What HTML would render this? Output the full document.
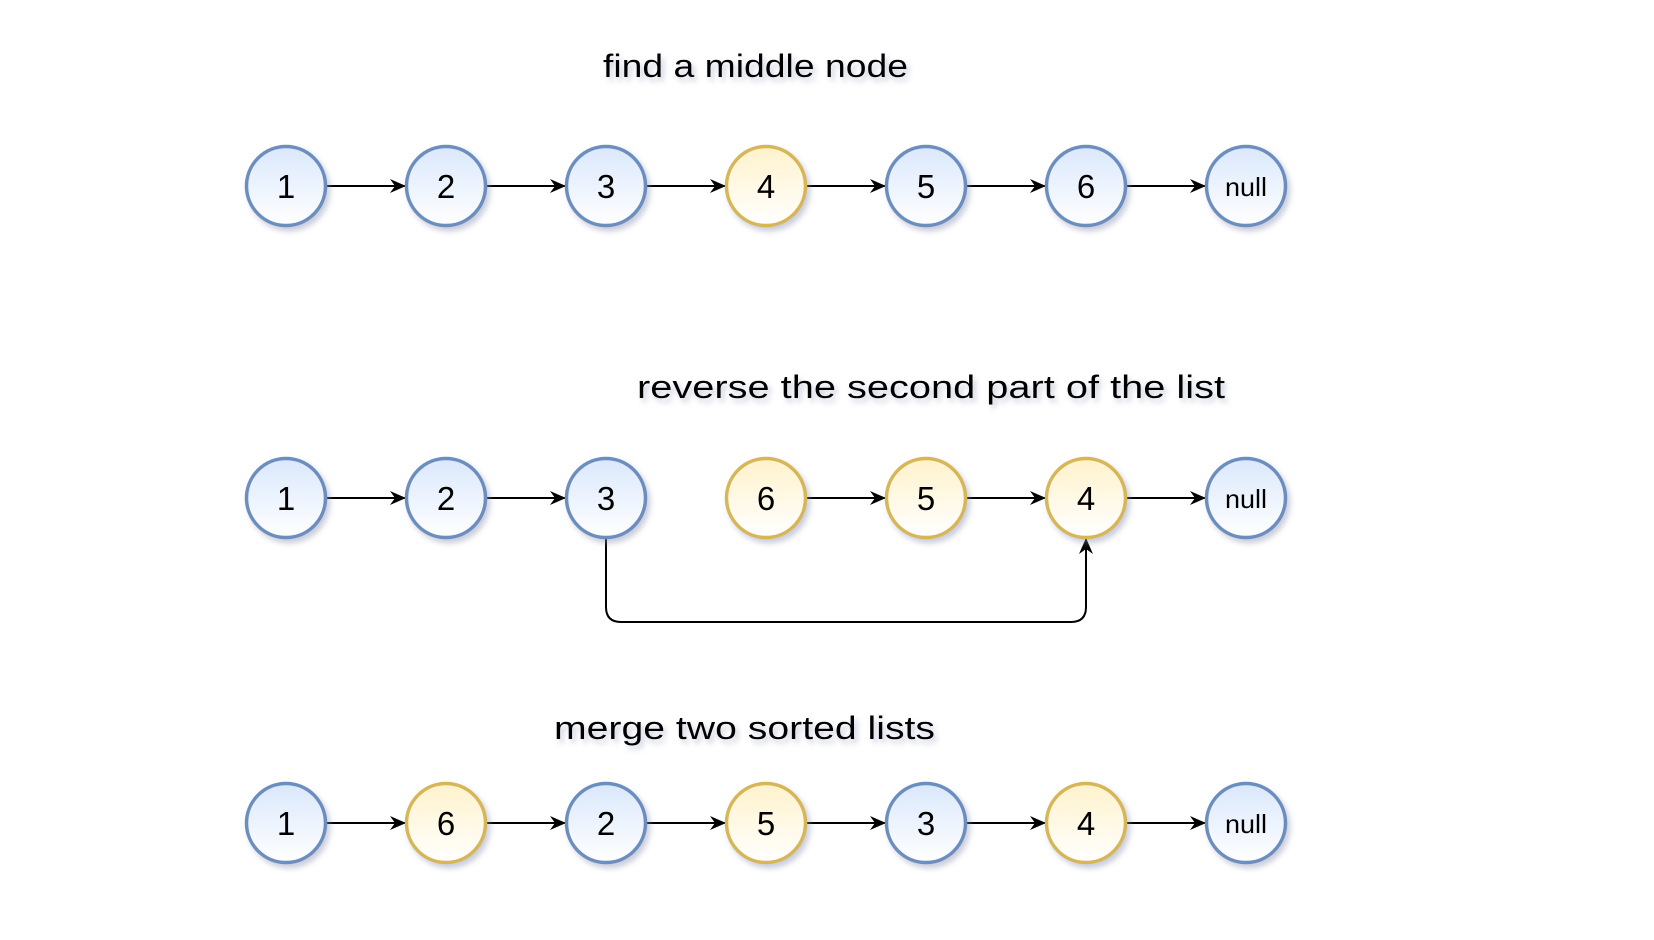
<!DOCTYPE html>
<html><head><meta charset="utf-8"><style>html,body{margin:0;padding:0;background:#fff}svg{display:block}</style></head>
<body>
<svg width="1654" height="940" viewBox="0 0 1654 940" xmlns="http://www.w3.org/2000/svg">
<defs>
<linearGradient id="gb" x1="0" y1="0" x2="0" y2="1"><stop offset="0" stop-color="#dae8fc"/><stop offset="1" stop-color="#ffffff"/></linearGradient>
<linearGradient id="gy" x1="0" y1="0" x2="0" y2="1"><stop offset="0" stop-color="#fff2cc"/><stop offset="1" stop-color="#ffffff"/></linearGradient>
<filter id="sh" x="-30%" y="-30%" width="170%" height="170%"><feDropShadow dx="3" dy="4" stdDeviation="3" flood-color="#8890b0" flood-opacity="0.45"/></filter>
<marker id="ar" markerWidth="16" markerHeight="14" refX="15" refY="7" orient="auto" markerUnits="userSpaceOnUse"><path d="M0,0 L16,7 L0,14 L5,7 Z" fill="#000"/></marker>
<g id="b"><circle r="39.5" fill="url(#gb)" stroke="#6c8ebf" stroke-width="3.5" filter="url(#sh)"/></g>
<g id="y"><circle r="39.5" fill="url(#gy)" stroke="#d6b656" stroke-width="3.5" filter="url(#sh)"/></g>
</defs>
<g font-family="'Comic Sans MS','Liberation Sans',sans-serif" font-size="32" fill="#000" filter="url(#sh)">
<text x="603" y="77" textLength="305" lengthAdjust="spacingAndGlyphs">find a middle node</text>
<text x="637" y="398" textLength="588" lengthAdjust="spacingAndGlyphs">reverse the second part of the list</text>
<text x="554" y="739" textLength="381" lengthAdjust="spacingAndGlyphs">merge two sorted lists</text>
</g>
<g stroke="#000" stroke-width="2" marker-end="url(#ar)">
<line x1="326" y1="186" x2="405" y2="186"/><line x1="486" y1="186" x2="565" y2="186"/><line x1="646" y1="186" x2="725" y2="186"/><line x1="806" y1="186" x2="885" y2="186"/><line x1="966" y1="186" x2="1045" y2="186"/><line x1="1126" y1="186" x2="1205" y2="186"/>
<line x1="326" y1="498" x2="405" y2="498"/><line x1="486" y1="498" x2="565" y2="498"/><line x1="806" y1="498" x2="885" y2="498"/><line x1="966" y1="498" x2="1045" y2="498"/><line x1="1126" y1="498" x2="1205" y2="498"/>
<line x1="326" y1="823" x2="405" y2="823"/><line x1="486" y1="823" x2="565" y2="823"/><line x1="646" y1="823" x2="725" y2="823"/><line x1="806" y1="823" x2="885" y2="823"/><line x1="966" y1="823" x2="1045" y2="823"/><line x1="1126" y1="823" x2="1205" y2="823"/>
<path d="M606,538 V607 Q606,622 621,622 H1071 Q1086,622 1086,607 V539" fill="none"/>
</g>
<use href="#b" x="286" y="186"/><use href="#b" x="446" y="186"/><use href="#b" x="606" y="186"/><use href="#y" x="766" y="186"/><use href="#b" x="926" y="186"/><use href="#b" x="1086" y="186"/><use href="#b" x="1246" y="186"/>
<use href="#b" x="286" y="498"/><use href="#b" x="446" y="498"/><use href="#b" x="606" y="498"/><use href="#y" x="766" y="498"/><use href="#y" x="926" y="498"/><use href="#y" x="1086" y="498"/><use href="#b" x="1246" y="498"/>
<use href="#b" x="286" y="823"/><use href="#y" x="446" y="823"/><use href="#b" x="606" y="823"/><use href="#y" x="766" y="823"/><use href="#b" x="926" y="823"/><use href="#y" x="1086" y="823"/><use href="#b" x="1246" y="823"/>
<g font-family="'Liberation Sans',sans-serif" font-size="33" text-anchor="middle" fill="#000">
<text x="286" y="198">1</text><text x="446" y="198">2</text><text x="606" y="198">3</text><text x="766" y="198">4</text><text x="926" y="198">5</text><text x="1086" y="198">6</text>
<text x="286" y="510">1</text><text x="446" y="510">2</text><text x="606" y="510">3</text><text x="766" y="510">6</text><text x="926" y="510">5</text><text x="1086" y="510">4</text>
<text x="286" y="835">1</text><text x="446" y="835">6</text><text x="606" y="835">2</text><text x="766" y="835">5</text><text x="926" y="835">3</text><text x="1086" y="835">4</text>
</g>
<g font-family="'Comic Sans MS','Liberation Sans',sans-serif" font-size="26" fill="#000">
<text x="1225" y="196" textLength="42" lengthAdjust="spacingAndGlyphs">null</text>
<text x="1225" y="508" textLength="42" lengthAdjust="spacingAndGlyphs">null</text>
<text x="1225" y="833" textLength="42" lengthAdjust="spacingAndGlyphs">null</text>
</g>
</svg>
</body></html>
